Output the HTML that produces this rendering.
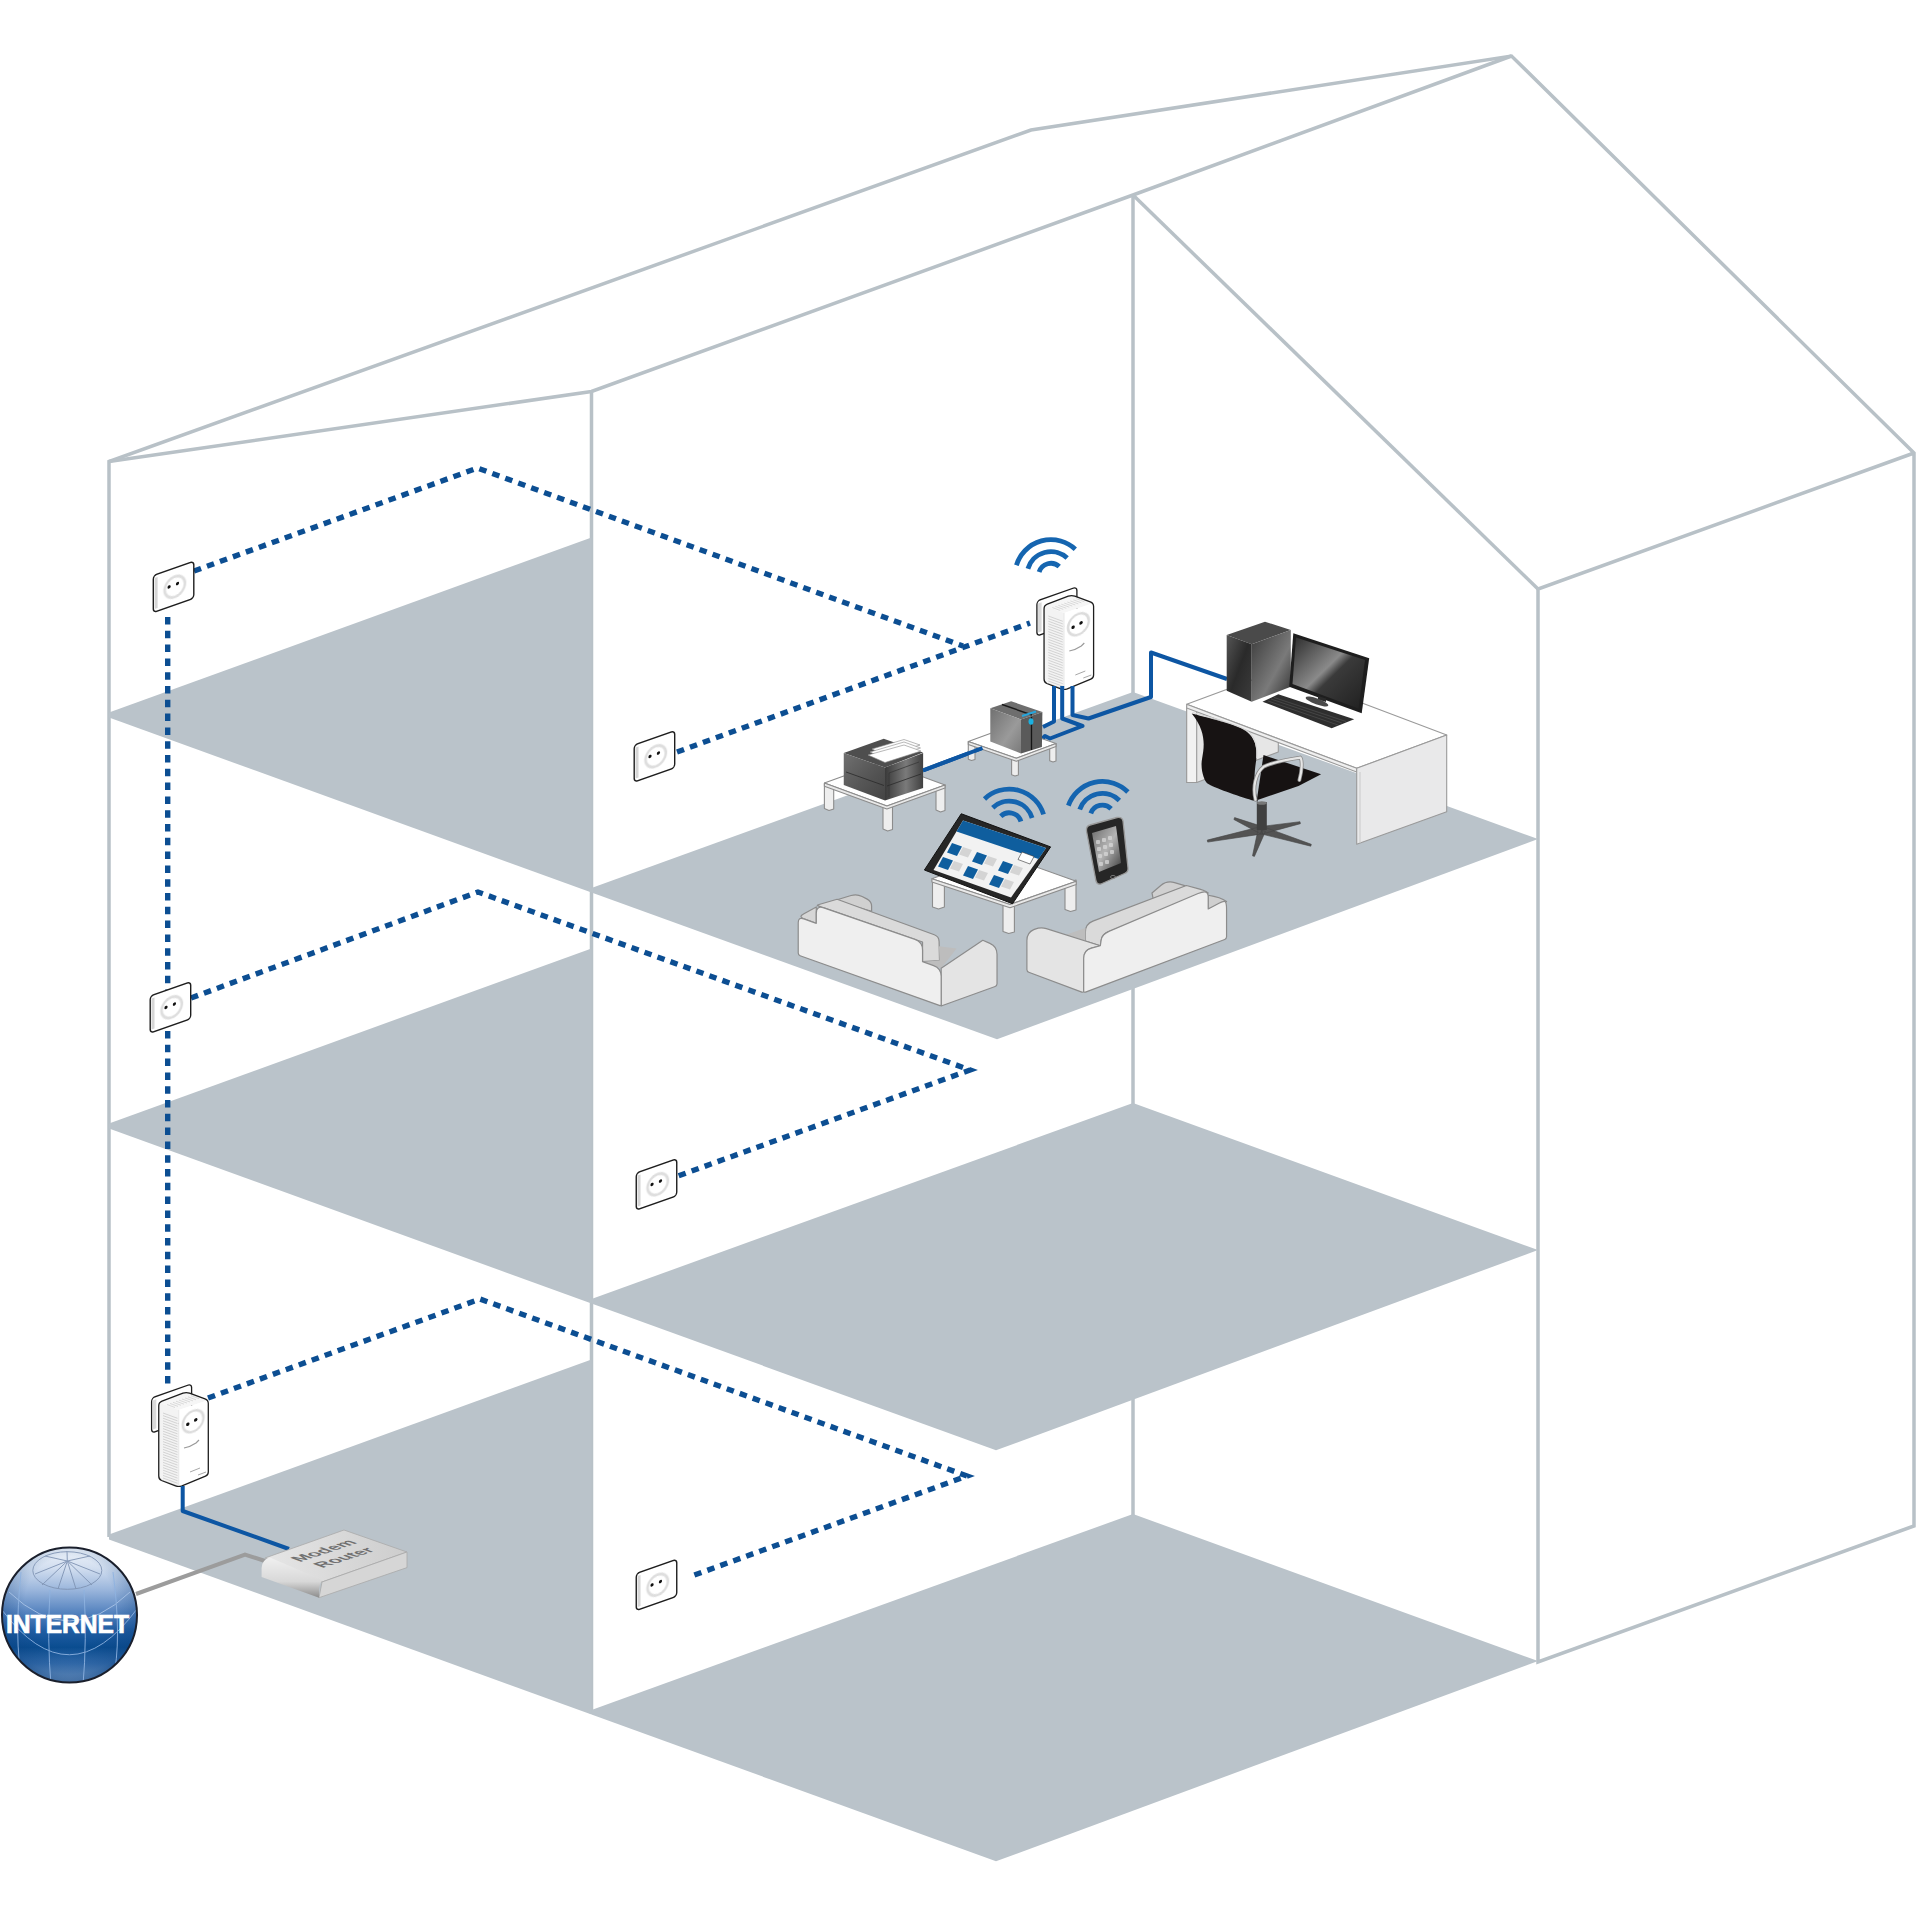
<!DOCTYPE html>
<html><head><meta charset="utf-8">
<style>
html,body{margin:0;padding:0;background:#fff;width:1917px;height:1917px;overflow:hidden}
svg{display:block}
</style></head>
<body>
<svg width="1917" height="1917" viewBox="0 0 1917 1917">
<defs>
  <radialGradient id="globeG" cx="0.5" cy="0.18" r="0.9" fx="0.5" fy="0.12">
    <stop offset="0" stop-color="#e8eef8"/>
    <stop offset="0.25" stop-color="#9fb8dc"/>
    <stop offset="0.55" stop-color="#2f64a6"/>
    <stop offset="0.8" stop-color="#0c4f92"/>
    <stop offset="1" stop-color="#4d7fbb"/>
  </radialGradient>
  <linearGradient id="pcL" x1="0" y1="0" x2="1" y2="1">
    <stop offset="0" stop-color="#555"/><stop offset="0.5" stop-color="#2a2a2a"/><stop offset="1" stop-color="#3c3c3c"/>
  </linearGradient>
  <linearGradient id="pcR" x1="0" y1="0" x2="1" y2="1">
    <stop offset="0" stop-color="#3a3a3a"/><stop offset="0.6" stop-color="#7a7a7a"/><stop offset="1" stop-color="#2e2e2e"/>
  </linearGradient>
  <linearGradient id="scr" x1="0" y1="0" x2="1" y2="1">
    <stop offset="0" stop-color="#2c2c2c"/><stop offset="0.45" stop-color="#8a8a8a"/><stop offset="0.55" stop-color="#3a3a3a"/><stop offset="1" stop-color="#202020"/>
  </linearGradient>
  <linearGradient id="nasL" x1="0" y1="0" x2="1" y2="1">
    <stop offset="0" stop-color="#707070"/><stop offset="0.6" stop-color="#9a9a9a"/><stop offset="1" stop-color="#7a7a7a"/>
  </linearGradient>
  <linearGradient id="prL" x1="0" y1="0" x2="1" y2="1">
    <stop offset="0" stop-color="#707070"/><stop offset="0.5" stop-color="#575757"/><stop offset="1" stop-color="#444"/>
  </linearGradient>
  <linearGradient id="prR" x1="0" y1="0" x2="1" y2="0">
    <stop offset="0" stop-color="#3a3a3a"/><stop offset="0.55" stop-color="#7a7a7a"/><stop offset="1" stop-color="#404040"/>
  </linearGradient>
  <linearGradient id="rtF" x1="0" y1="0" x2="0" y2="1">
    <stop offset="0" stop-color="#f0f0f0"/><stop offset="0.6" stop-color="#d8d8d8"/><stop offset="1" stop-color="#8c8c8c"/>
  </linearGradient>
  <linearGradient id="rtT" x1="0" y1="0" x2="1" y2="0">
    <stop offset="0" stop-color="#e6e6e6"/><stop offset="1" stop-color="#cdcdcd"/>
  </linearGradient>
  <linearGradient id="phS" x1="0" y1="0" x2="1" y2="1">
    <stop offset="0" stop-color="#6a6a6a"/><stop offset="0.5" stop-color="#b5b5b5"/><stop offset="1" stop-color="#3a3a3a"/>
  </linearGradient>
</defs>
<filter id="blur1" x="-20%" y="-20%" width="140%" height="140%"><feGaussianBlur stdDeviation="0.7"/></filter>
<rect width="1917" height="1917" fill="#fff"/>

<g stroke="#b8c1c7" stroke-width="3.5" fill="none" stroke-linejoin="miter">
  <polyline points="109,1537 109,461.5 1031,130 1511.5,56 1914,453 1914,1526 1538,1662 1538,589 1914,453"/>
  <polyline points="109,461.5 591.5,391.5 1133,195 1511.5,56"/>
  <line x1="591.5" y1="391" x2="591.5" y2="1714"/>
  <line x1="1133" y1="195" x2="1133" y2="1515"/>
  <line x1="1133" y1="195" x2="1538" y2="589"/>
</g>
<g fill="#bac3ca">
  <polygon points="109,712.5 591.5,537.5 591.5,892.5 109,717.5"/>
  <polygon points="591.5,888 1133,692 1538,839 997,1039.3 591.5,892.5"/>
  <polygon points="109,1123.5 591.5,948.5 591.5,1303.5 109,1128.5"/>
  <polygon points="591.5,1299 1133,1103 1538,1250 996,1450.3 591.5,1303.5"/>
  <polygon points="109,1534.5 591.5,1359.5 591.5,1714.5 109,1539.5"/>
  <polygon points="591.5,1710 1133,1514 1538,1661 996,1861.3 591.5,1714.5"/>
</g>
<g stroke="#0c4e92" stroke-width="5.4" fill="none" stroke-dasharray="7.5 6.3">
  <polyline points="194,571 477.5,468 963,646"/>
  <polyline points="677,752 1030,623"/>
  <polyline points="191,998 478,892 970,1070 678,1176"/>
  <polyline points="208,1398 480,1299 967,1476 689,1577"/>
  <line x1="167.7" y1="617" x2="167.7" y2="1385"/>
</g>
<g transform="translate(153.3,575.5) skewY(-19.341)">
 <rect x="0" y="0" width="40.5" height="37" rx="3.5" fill="#fff" stroke="#1e1e1e" stroke-width="1.4"/>
 <rect x="1.3" y="3" width="3" height="31" fill="#d6d6d6"/>
 <circle cx="21.5" cy="18.8" r="10.2" fill="none" stroke="#dedede" stroke-width="2.6" filter="url(#blur1)"/>
 <circle cx="15.8" cy="17" r="1.6" fill="#111"/>
 <circle cx="24.2" cy="16.6" r="1.6" fill="#111"/>
</g>
<g transform="translate(150.2,996) skewY(-19.341)">
 <rect x="0" y="0" width="40.5" height="37" rx="3.5" fill="#fff" stroke="#1e1e1e" stroke-width="1.4"/>
 <rect x="1.3" y="3" width="3" height="31" fill="#d6d6d6"/>
 <circle cx="21.5" cy="18.8" r="10.2" fill="none" stroke="#dedede" stroke-width="2.6" filter="url(#blur1)"/>
 <circle cx="15.8" cy="17" r="1.6" fill="#111"/>
 <circle cx="24.2" cy="16.6" r="1.6" fill="#111"/>
</g>
<g transform="translate(634.2,745) skewY(-19.341)">
 <rect x="0" y="0" width="40.5" height="37" rx="3.5" fill="#fff" stroke="#1e1e1e" stroke-width="1.4"/>
 <rect x="1.3" y="3" width="3" height="31" fill="#d6d6d6"/>
 <circle cx="21.5" cy="18.8" r="10.2" fill="none" stroke="#dedede" stroke-width="2.6" filter="url(#blur1)"/>
 <circle cx="15.8" cy="17" r="1.6" fill="#111"/>
 <circle cx="24.2" cy="16.6" r="1.6" fill="#111"/>
</g>
<g transform="translate(636.25,1173) skewY(-19.341)">
 <rect x="0" y="0" width="40.5" height="37" rx="3.5" fill="#fff" stroke="#1e1e1e" stroke-width="1.4"/>
 <rect x="1.3" y="3" width="3" height="31" fill="#d6d6d6"/>
 <circle cx="21.5" cy="18.8" r="10.2" fill="none" stroke="#dedede" stroke-width="2.6" filter="url(#blur1)"/>
 <circle cx="15.8" cy="17" r="1.6" fill="#111"/>
 <circle cx="24.2" cy="16.6" r="1.6" fill="#111"/>
</g>
<g transform="translate(636.25,1573.5) skewY(-19.341)">
 <rect x="0" y="0" width="40.5" height="37" rx="3.5" fill="#fff" stroke="#1e1e1e" stroke-width="1.4"/>
 <rect x="1.3" y="3" width="3" height="31" fill="#d6d6d6"/>
 <circle cx="21.5" cy="18.8" r="10.2" fill="none" stroke="#dedede" stroke-width="2.6" filter="url(#blur1)"/>
 <circle cx="15.8" cy="17" r="1.6" fill="#111"/>
 <circle cx="24.2" cy="16.6" r="1.6" fill="#111"/>
</g>
<g id="adB"><g transform="translate(151.6,1398) skewY(-19.341)"><rect x="0" y="0" width="40" height="35" rx="3.5" fill="#fff" stroke="#1e1e1e" stroke-width="1.3"/><rect x="1.2" y="3" width="3.5" height="29" fill="#d9d9d9"/></g>
<polygon points="158.75,1402.5 186.3,1392.2 208.3,1400 178.75,1410" fill="#f6f6f6"/>
<polygon points="158.75,1402.5 178.75,1410 178.75,1487 158.75,1479" fill="#f3f3f3"/>
<polygon points="178.75,1410 208.3,1400 208.3,1475 178.75,1487" fill="#ffffff"/>
<path d="M163,1413.0 L177.5,1418.3 M163,1415.6 L177.5,1420.9 M163,1418.2 L177.5,1423.5 M163,1420.8 L177.5,1426.1 M163,1423.4 L177.5,1428.7 M163,1426.0 L177.5,1431.3 M163,1428.6 L177.5,1433.9 M163,1431.2 L177.5,1436.5 M163,1433.8 L177.5,1439.1 M163,1436.4 L177.5,1441.7 M163,1439.0 L177.5,1444.3 M163,1441.6 L177.5,1446.9 M163,1444.2 L177.5,1449.5 M163,1446.8 L177.5,1452.1 M163,1449.4 L177.5,1454.7 M163,1452.0 L177.5,1457.3 M163,1454.6 L177.5,1459.9 M163,1457.2 L177.5,1462.5 M163,1459.8 L177.5,1465.1 M163,1462.4 L177.5,1467.7 M163,1465.0 L177.5,1470.3 M163,1467.6 L177.5,1472.9 M163,1470.2 L177.5,1475.5 M163,1472.8 L177.5,1478.1 M163,1475.4 L177.5,1480.7 M163,1478.0 L177.5,1483.3 M163,1480.6 L177.5,1485.9" stroke="#cfcfcf" stroke-width="0.9" fill="none"/>
<path d="M175.0,1407.5 L167.0,1404.5 M178.0,1406.4 L170.0,1403.4 M181.0,1405.3 L173.0,1402.3 M184.0,1404.2 L176.0,1401.2 M187.0,1403.1 L179.0,1400.1 M190.0,1402.0 L182.0,1399.0 M193.0,1400.9 L185.0,1397.9 M196.0,1399.8 L188.0,1396.8 M199.0,1398.7 L191.0,1395.7" stroke="#d2d2d2" stroke-width="0.8" fill="none"/>
<path d="M158.75,1406 Q158.75,1402.5 162,1401.2 L183,1393.2 Q186.3,1392 189.5,1393.2 L205,1398.8 Q208.3,1400 208.3,1403.5 L208.3,1472 Q208.3,1475 205.5,1476.2 L182,1485.8 Q178.75,1487 175.5,1485.8 L161.5,1480.5 Q158.75,1479.3 158.75,1476 Z" fill="none" stroke="#1e1e1e" stroke-width="1.3"/>
<line x1="178.75" y1="1410" x2="178.75" y2="1486" stroke="#e2e2e2" stroke-width="0.8"/>
<g transform="translate(193.1,1421.2) skewY(-19.341)"><circle r="10.4" fill="none" stroke="#dcdcdc" stroke-width="2.4" filter="url(#blur1)"/><circle cx="-5.3" cy="1.2" r="1.7" fill="#111"/><circle cx="2.6" cy="-0.4" r="1.7" fill="#111"/></g>
<path d="M184,1448 Q190,1447 196,1443 L199,1440" stroke="#9a9a9a" stroke-width="1.2" fill="none"/>
<path d="M190,1472 L200,1468 M198,1475 L206,1472" stroke="#a8a8a8" stroke-width="1" fill="none"/></g>
<g transform="translate(885.3,-797)"><g transform="translate(151.6,1398) skewY(-19.341)"><rect x="0" y="0" width="40" height="35" rx="3.5" fill="#fff" stroke="#1e1e1e" stroke-width="1.3"/><rect x="1.2" y="3" width="3.5" height="29" fill="#d9d9d9"/></g>
<polygon points="158.75,1402.5 186.3,1392.2 208.3,1400 178.75,1410" fill="#f6f6f6"/>
<polygon points="158.75,1402.5 178.75,1410 178.75,1487 158.75,1479" fill="#f3f3f3"/>
<polygon points="178.75,1410 208.3,1400 208.3,1475 178.75,1487" fill="#ffffff"/>
<path d="M163,1413.0 L177.5,1418.3 M163,1415.6 L177.5,1420.9 M163,1418.2 L177.5,1423.5 M163,1420.8 L177.5,1426.1 M163,1423.4 L177.5,1428.7 M163,1426.0 L177.5,1431.3 M163,1428.6 L177.5,1433.9 M163,1431.2 L177.5,1436.5 M163,1433.8 L177.5,1439.1 M163,1436.4 L177.5,1441.7 M163,1439.0 L177.5,1444.3 M163,1441.6 L177.5,1446.9 M163,1444.2 L177.5,1449.5 M163,1446.8 L177.5,1452.1 M163,1449.4 L177.5,1454.7 M163,1452.0 L177.5,1457.3 M163,1454.6 L177.5,1459.9 M163,1457.2 L177.5,1462.5 M163,1459.8 L177.5,1465.1 M163,1462.4 L177.5,1467.7 M163,1465.0 L177.5,1470.3 M163,1467.6 L177.5,1472.9 M163,1470.2 L177.5,1475.5 M163,1472.8 L177.5,1478.1 M163,1475.4 L177.5,1480.7 M163,1478.0 L177.5,1483.3 M163,1480.6 L177.5,1485.9" stroke="#cfcfcf" stroke-width="0.9" fill="none"/>
<path d="M175.0,1407.5 L167.0,1404.5 M178.0,1406.4 L170.0,1403.4 M181.0,1405.3 L173.0,1402.3 M184.0,1404.2 L176.0,1401.2 M187.0,1403.1 L179.0,1400.1 M190.0,1402.0 L182.0,1399.0 M193.0,1400.9 L185.0,1397.9 M196.0,1399.8 L188.0,1396.8 M199.0,1398.7 L191.0,1395.7" stroke="#d2d2d2" stroke-width="0.8" fill="none"/>
<path d="M158.75,1406 Q158.75,1402.5 162,1401.2 L183,1393.2 Q186.3,1392 189.5,1393.2 L205,1398.8 Q208.3,1400 208.3,1403.5 L208.3,1472 Q208.3,1475 205.5,1476.2 L182,1485.8 Q178.75,1487 175.5,1485.8 L161.5,1480.5 Q158.75,1479.3 158.75,1476 Z" fill="none" stroke="#1e1e1e" stroke-width="1.3"/>
<line x1="178.75" y1="1410" x2="178.75" y2="1486" stroke="#e2e2e2" stroke-width="0.8"/>
<g transform="translate(193.1,1421.2) skewY(-19.341)"><circle r="10.4" fill="none" stroke="#dcdcdc" stroke-width="2.4" filter="url(#blur1)"/><circle cx="-5.3" cy="1.2" r="1.7" fill="#111"/><circle cx="2.6" cy="-0.4" r="1.7" fill="#111"/></g>
<path d="M184,1448 Q190,1447 196,1443 L199,1440" stroke="#9a9a9a" stroke-width="1.2" fill="none"/>
<path d="M190,1472 L200,1468 M198,1475 L206,1472" stroke="#a8a8a8" stroke-width="1" fill="none"/></g>
<g fill="none" stroke="#0d56a3" stroke-width="4" stroke-linejoin="round">
 <polyline points="182.7,1486 182.7,1511 289,1549"/>
 <polyline points="1054,686 1054,721.5 1043,727"/>
 <polyline points="1062.2,686 1062.2,718.5 1082.5,726 1050,738.5 1045,736 1040,741 982.5,748 923,770.5"/>
 <polyline points="1072.5,686 1072.5,715 1088.5,718.5 1151,697 1151,652.5 1227,679"/>
</g>
<polyline points="136,1594 245,1554.5 265,1561" fill="none" stroke="#9c9c9c" stroke-width="4"/>
<g>
 <polygon points="265,1558 344,1530 407,1552 322,1582" fill="url(#rtT)" stroke="#a9a9a9" stroke-width="0.8"/>
 <polygon points="407,1552 407,1567.6 319,1597.7 322,1582" fill="#d6d6d6" stroke="#a9a9a9" stroke-width="0.8"/>
 <path d="M261.6,1577 L261.6,1568 Q262,1559.5 270,1557.5 L322,1580 Q319,1585 319,1590 L319,1597.7 Z" fill="url(#rtF)"/>
 <text font-family="Liberation Sans, sans-serif" font-weight="bold" font-size="17.5" fill="#707070" transform="matrix(0.95,-0.31,0.9,0.32,300,1562)">Modem</text>
 <text font-family="Liberation Sans, sans-serif" font-weight="bold" font-size="17.5" fill="#707070" transform="matrix(0.95,-0.31,0.9,0.32,322.5,1568)">Router</text>
</g>
<g>
 <defs>
  <linearGradient id="glV" x1="0" y1="0" x2="0" y2="1">
   <stop offset="0" stop-color="#eef3fa"/>
   <stop offset="0.15" stop-color="#d3dff0"/>
   <stop offset="0.32" stop-color="#98b4db"/>
   <stop offset="0.48" stop-color="#5583bf"/>
   <stop offset="0.62" stop-color="#1f5ca2"/>
   <stop offset="0.74" stop-color="#0a4d90"/>
   <stop offset="0.86" stop-color="#3a72b2"/>
   <stop offset="1" stop-color="#95b4da"/>
  </linearGradient>
  <radialGradient id="glR" cx="0.5" cy="0.4" r="0.6">
   <stop offset="0.55" stop-color="#0a3f7d" stop-opacity="0"/>
   <stop offset="0.9" stop-color="#0a3f7d" stop-opacity="0.35"/>
   <stop offset="1" stop-color="#0a3f7d" stop-opacity="0.6"/>
  </radialGradient>
  <clipPath id="glC"><circle cx="69.5" cy="1615" r="67.5"/></clipPath>
 </defs>
 <circle cx="69.5" cy="1615" r="67.5" fill="url(#glV)"/>
 <circle cx="69.5" cy="1615" r="67.5" fill="url(#glR)"/>
 <g clip-path="url(#glC)" fill="none" stroke="#8fb3e0" stroke-width="1" opacity="0.9">
  <ellipse cx="67.3" cy="1570.5" rx="34.5" ry="18.8" stroke="#7f93b3"/>
  <path d="M67.3,1561 L35,1574 M67.3,1561 L42,1585 M67.3,1561 L58,1589 M67.3,1561 L76,1589 M67.3,1561 L92,1585 M67.3,1561 L100,1574 M67.3,1561 L90,1556 M67.3,1561 L45,1556 M67.3,1561 L67,1551" stroke="#7f93b3"/>
  <path d="M2,1610 Q69.5,1700 137,1609"/>
  <path d="M9,1592 Q69.5,1650 130,1592" stroke="#a9c3e6"/>
  <path d="M21,1572 Q14,1640 22,1680 M50,1590 Q47,1640 51,1685 M84,1590 Q87,1640 83,1685 M113,1572 Q122,1640 113,1680"/>
 </g>
 <circle cx="69.5" cy="1615" r="67.5" fill="none" stroke="#1a1f2c" stroke-width="2"/>
 <text x="67.5" y="1632.7" text-anchor="middle" font-family="Liberation Sans, sans-serif" font-weight="bold" font-size="26" fill="#fff" stroke="#fff" stroke-width="0.7" textLength="123" lengthAdjust="spacingAndGlyphs">INTERNET</text>
</g>
<g stroke="#8c8c8c" stroke-width="1.1" stroke-linejoin="round">
 <polygon points="824.4,784 833.7,787.5 833.7,809 829,810.5 824.4,808.5" fill="#eeeeee"/>
 <polygon points="936,788 945,785 945,810.5 940.5,812 936,810" fill="#eeeeee"/>
 <polygon points="883,805 892.5,801.5 892.5,829.5 887.7,831 883,829" fill="#eeeeee"/>
 <polygon points="824.4,783.1 882.5,762 945,785 886.9,806" fill="#ffffff"/>
 <polygon points="824.4,783.1 886.9,806 945,785 945,788 886.9,809 824.4,786.3" fill="#e9e9e9"/>
</g>
<g>
 <polygon points="843.75,753.1 883.75,738.75 923.1,752.5 885,767.5" fill="#4e4e4e"/>
 <polygon points="843.75,753.1 885,767.5 885,800.6 843.75,785" fill="url(#prL)"/>
 <polygon points="885,767.5 923.1,753.1 923.1,788.1 885,800.6" fill="url(#prR)"/>
 <polygon points="872,749 904,739.5 920,745 886,756" fill="#fdfdfd" stroke="#8a8a8a" stroke-width="0.6"/>
 <polygon points="870,752 904,742 920.5,748 885.5,759" fill="#fdfdfd" stroke="#8a8a8a" stroke-width="0.6"/>
 <polygon points="868,755 904,745 921,751 885,762.5" fill="#ffffff" stroke="#8a8a8a" stroke-width="0.6"/>
 <path d="M846,772 L884,785.5 M887,786 L921,774" stroke="#2a2a2a" stroke-width="0.8"/>
 <path d="M889,773 L889,797 M889,773 L919,762" stroke="#333" stroke-width="0.7" fill="none"/>
</g>
<g stroke="#8c8c8c" stroke-width="1.1" stroke-linejoin="round">
 <polygon points="968.3,742 975,744.5 975,759.5 971.5,760.5 968.3,759.2" fill="#eeeeee"/>
 <polygon points="1011.6,759 1018.4,756.5 1018.4,775 1015,776 1011.6,774.8" fill="#eeeeee"/>
 <polygon points="1049.7,746 1056,744 1056,761 1053,762 1049.7,760.7" fill="#eeeeee"/>
 <polygon points="968.3,741.6 1008,727 1056,743.5 1016.3,758.3" fill="#ffffff"/>
 <polygon points="968.3,741.6 1016.3,758.3 1056,743.5 1056,746.5 1016.3,761.3 968.3,744.6" fill="#e9e9e9"/>
</g>
<g>
 <polygon points="990.3,708.3 1011.1,701.2 1042.4,711.9 1021,719.4" fill="#6e6e6e"/>
 <polygon points="990.3,708.3 1021,719.4 1021,753.4 990.3,741.6" fill="url(#nasL)"/>
 <polygon points="1021,719.4 1042.4,711.9 1041.9,746.9 1021,753.4" fill="#5a5a5a"/>
 <path d="M1002,704.5 L1032,715" stroke="#1a1a1a" stroke-width="1.4"/>
 <line x1="1031.5" y1="717" x2="1031.5" y2="750" stroke="#151515" stroke-width="1.3"/>
 <ellipse cx="1031" cy="721.5" rx="2.5" ry="3.2" fill="#1ab0e0"/>
 <path d="M1022,716 L1036,711.5" stroke="#27a6dc" stroke-width="2"/>
</g>
<polyline points="982.5,748 923,770.5" fill="none" stroke="#0d56a3" stroke-width="4"/>
<g stroke="#8c8c8c" stroke-width="1.1" stroke-linejoin="round">
 <polygon points="932.5,880 944.4,884 944.4,907 938.5,909 932.5,907" fill="#eeeeee"/>
 <polygon points="1065,883 1076,880 1076,910 1070.5,911.5 1065,909.5" fill="#eeeeee"/>
 <polygon points="1003,905 1014.4,901.5 1014.4,932 1008.7,933.5 1003,931.5" fill="#eeeeee"/>
 <polygon points="931.9,878.75 1000,854 1076.25,881.25 1010,904.4" fill="#ffffff"/>
 <polygon points="931.9,878.75 1010,904.4 1076.25,881.25 1076.25,884.5 1010,907.8 931.9,882" fill="#e9e9e9"/>
</g>
<g>
 <polygon points="961.25,813.75 1050.6,846.9 1012.5,903.75 924.4,870" fill="#262626" stroke="#111" stroke-width="1"/>
 <polygon points="963,820.5 1046,848 1011,897.5 933.5,870" fill="#f2f2f2"/>
 <polygon points="963,820.5 1046,848 1038.5,859 956.5,831.5" fill="#0f5e9e"/>
 <g fill="#0f5e9e">
  <polygon points="952,843 962,846.5 957,856 947,852.5"/>
  <polygon points="977,852 987,855.5 982,865 972,861.5"/>
  <polygon points="1003,861 1013,864.5 1008,874 998,870.5"/>
  <polygon points="943,857 953,860.5 948,870 938,866.5"/>
  <polygon points="968,866 978,869.5 973,879 963,875.5"/>
  <polygon points="994,875 1004,878.5 999,888 989,884.5"/>
 </g>
 <g fill="#d4d4d4">
  <polygon points="963,847 972,850 968,857.5 959,854.5"/>
  <polygon points="988,856 997,859 993,866.5 984,863.5"/>
  <polygon points="1014,865 1023,868 1019,875.5 1010,872.5"/>
  <polygon points="954,861 963,864 959,871.5 950,868.5"/>
  <polygon points="979,870 988,873 984,880.5 975,877.5"/>
  <polygon points="1005,879 1014,882 1010,889.5 1001,886.5"/>
 </g>
 <polygon points="1022,852 1034,856.5 1030,864 1018,859.5" fill="#fff" stroke="#333" stroke-width="0.6"/>
</g>
<g>
 <path d="M1090,825 L1117,817.5 Q1122,816.5 1123,821 L1128,868 Q1128.5,872 1124.5,873.5 L1101,884 Q1097,885 1096,881 L1086.5,831 Q1086,826 1090,825 Z" fill="#262626" stroke="#9a9a9a" stroke-width="1.3"/>
 <polygon points="1092,833 1116,826 1121,863 1099,872" fill="url(#phS)"/>
 <g fill="#d8d8d8" opacity="0.75">
  <rect x="1096" y="840" width="4" height="4" rx="1"/><rect x="1102" y="838" width="4" height="4" rx="1"/><rect x="1108" y="836" width="4" height="4" rx="1"/>
  <rect x="1097" y="847" width="4" height="4" rx="1"/><rect x="1103" y="845" width="4" height="4" rx="1"/><rect x="1109" y="843" width="4" height="4" rx="1"/>
  <rect x="1098" y="854" width="4" height="4" rx="1"/><rect x="1104" y="852" width="4" height="4" rx="1"/><rect x="1110" y="850" width="4" height="4" rx="1"/>
  <rect x="1099" y="862" width="4" height="4" rx="1"/><rect x="1105" y="860" width="4" height="4" rx="1"/>
 </g>
 <ellipse cx="1113" cy="877" rx="2.5" ry="1.6" fill="none" stroke="#888" stroke-width="0.8"/>
</g>
<g stroke="#8c8c8c" stroke-width="1.2" stroke-linejoin="round">
 <path d="M837.10,899.79 L851.08,895.52 Q856.82,893.76 862.15,896.53 L867.17,899.13 Q871.61,901.43 871.61,906.36 L871.61,911.29 L837.10,901.43 Z" fill="#d0d0d0"/>
 <path d="M818.18,905.92 Q816.29,905.27 818.21,904.71 L837.10,899.24 L934.28,934.77 Q938.98,936.48 939.09,941.48 L939.52,960.58 L922.54,961.68 L922.54,941.96 Z" fill="#dadada"/>
 <path d="M803.85,918.82 Q798.22,916.77 803.50,913.93 L813.55,908.55 L816.29,906.91 L816.29,923.34 Z" fill="#d6d6d6"/>
 <path d="M938.98,946.34 L956.50,948.53 L941.17,968.25 L922.54,961.68 L939.52,960.58 Z" fill="#bdbdbd" stroke="none"/>
 <path d="M941.17,968.25 L982.79,940.32 L989.91,943.33 Q997.03,946.34 997.03,954.34 L997.03,983.78 Q997.03,985.78 995.15,986.46 L941.17,1006.04 Z" fill="#e4e4e4"/>
 <path d="M798.22,922.77 Q798.22,916.77 803.85,918.82 L816.29,923.34 L816.29,913.27 Q816.29,905.27 823.85,907.88 L914.98,939.35 Q922.54,941.96 922.54,949.96 L922.54,961.68 L933.62,965.59 Q941.17,968.25 941.17,976.25 L941.17,1004.04 Q941.17,1006.04 939.28,1005.37 L800.10,955.78 Q798.22,955.11 798.22,953.11 Z" fill="#efefef"/>
</g>
<g stroke="#8c8c8c" stroke-width="1.2" stroke-linejoin="round">
 <path d="M1151.97,892.95 L1160.78,885.50 Q1166.89,880.33 1174.56,882.59 L1186.40,886.07 L1153.12,898.69 Z" fill="#d0d0d0"/>
 <path d="M1085.41,931.94 Q1085.41,923.94 1092.89,921.09 L1186.40,885.49 L1199.75,889.05 Q1203.61,890.08 1205.91,891.52 L1208.20,892.95 L1107.64,932.09 Q1102.05,934.26 1101.19,940.00 L1100.33,945.74 L1085.41,941.15 Z" fill="#dadada"/>
 <path d="M1208.20,895.25 L1213.94,896.39 Q1219.68,897.54 1223.12,899.55 L1226.56,901.56 L1208.20,909.02 Z" fill="#cfcfcf"/>
 <path d="M1065.90,934.84 L1085.41,927.95 L1085.41,943.45 L1083.69,950.33 Z" fill="#bdbdbd" stroke="none"/>
 <path d="M1026.89,940.54 Q1026.89,932.54 1033.77,929.67 L1035.12,929.11 Q1040.66,926.81 1046.38,928.62 L1100.33,945.74 L1091.40,948.20 Q1083.69,950.33 1083.69,958.33 L1083.69,990.79 Q1083.69,992.79 1081.82,992.09 L1028.76,972.26 Q1026.89,971.56 1026.89,969.56 Z" fill="#e4e4e4"/>
 <path d="M1083.69,958.33 Q1083.69,950.33 1091.40,948.20 L1100.33,945.74 L1101.19,940.00 Q1102.05,934.26 1109.42,931.14 L1198.09,893.57 Q1203.61,891.23 1205.91,892.09 L1205.91,892.09 Q1208.20,892.95 1208.20,896.95 L1208.20,909.02 L1218.98,903.24 Q1224.27,900.41 1225.42,901.85 L1225.42,901.85 Q1226.56,903.28 1226.56,909.28 L1226.56,936.85 Q1226.56,938.85 1224.69,939.56 L1085.56,992.08 Q1083.69,992.79 1083.69,990.79 Z" fill="#efefef"/>
</g>
<g stroke="#9a9a9a" stroke-width="1.1" stroke-linejoin="round">
 <polygon points="1186.7,706.7 1278.3,741.7 1278.3,752 1196.7,782.5 1186.7,782.5" fill="#e6e6e6"/>
 <polygon points="1186.7,706 1196.7,709.5 1196.7,782.5 1186.7,782.5" fill="#f2f2f2"/>
 <polygon points="1186.7,704.2 1276.7,670.8 1446.7,735 1356.7,768.3" fill="#ffffff"/>
 <polygon points="1186.7,704.2 1356.7,768.3 1356.7,772 1186.7,708" fill="#efefef"/>
 <polygon points="1356.7,768.3 1446.7,735 1446.7,811.7 1356.7,844.2" fill="#e9e9ea"/>
 <line x1="1360" y1="772" x2="1360" y2="843" stroke="#c9c9c9" stroke-width="1"/>
</g>
<g>
 <polygon points="1226.7,635 1265,621.7 1290.8,630 1251.7,644.2" fill="#4a4a4a"/>
 <polygon points="1226.7,635 1251.7,644.2 1251.7,701.7 1226.7,690.8" fill="url(#pcL)"/>
 <polygon points="1251.7,644.2 1290.8,630 1290.8,686.7 1251.7,701.7" fill="url(#pcR)"/>
</g>
<g>
 <polygon points="1293.3,633.3 1369.2,658.3 1361.7,713.3 1289.2,686.7" fill="#1e1e1e"/>
 <polygon points="1296,637.5 1365,660 1358.5,708.5 1292.5,684" fill="url(#scr)"/>
 <polygon points="1318,696 1326,698.5 1326,702 1318,699.5" fill="#2a2a2a"/>
 <ellipse cx="1317" cy="701.5" rx="12" ry="3" transform="rotate(20 1317 701.5)" fill="#4a4a4a"/>
</g>
<g>
 <polygon points="1262.5,701.7 1278.3,694.2 1354.2,719.2 1331.7,728.3" fill="#2e2e2e"/>
 <path d="M1268,701 L1338,725 M1271,699 L1342,723 M1274,697.5 L1346,721.5" stroke="#555" stroke-width="0.6"/>
</g>
<g>
 <path d="M1261.1,826.5 L1207.3,840.1 L1207.7,842.1 L1262.5,833.9 Z M1263.3,826.8 L1234.6,817.6 L1233.9,819.5 L1260.3,833.7 Z M1262.5,833.9 L1300.4,823.7 L1300.0,821.7 L1261.1,826.5 Z M1260.7,833.8 L1310.8,846.2 L1311.3,844.3 L1262.9,826.6 Z M1258.2,829.1 L1252.5,855.8 L1254.4,856.4 L1265.4,831.4 Z" fill="#535353" stroke="#444" stroke-width="0.6"/>
 <rect x="1256.8" y="802" width="10" height="28" fill="#404040"/>
 <ellipse cx="1261.8" cy="803" rx="5" ry="1.8" fill="#777"/>
 <path d="M1263.5,755.1 L1321.1,774.3 L1298.5,786.0 L1256.8,800.2 Z" fill="#161212"/>
 <path d="M1191.7,713.4 C1213.4,719.2 1238.4,725.0 1246.8,731.7 C1255.1,738.4 1257.2,746.7 1256.4,758.4 C1254.7,771.0 1252.6,783.5 1258.0,801.4 L1251.8,800.2 C1238.4,796.0 1213.4,787.6 1207.5,783.5 C1204.2,781.0 1200.0,769.3 1202.1,758.4 C1204.2,746.7 1206.7,731.7 1191.7,713.4 Z" fill="#171313"/>
 <path d="M1192.5,712.5 C1217.6,719.2 1242.6,725.9 1249.3,732.6 C1256.8,739.2 1257.6,748.4 1256.8,758.4" fill="none" stroke="#d8d8d8" stroke-width="1.2"/>
 <path d="M1255.5,799.7 C1252.6,787.6 1255.1,773.5 1263.5,766.8 C1271.8,762.6 1288.5,759.3 1300.2,757.6 C1302.7,760.1 1301.9,771.0 1299.4,780.1" fill="none" stroke="#8a8a8a" stroke-width="3.8" stroke-linecap="round"/>
 <path d="M1255.5,799.7 C1252.6,787.6 1255.1,773.5 1263.5,766.8 C1271.8,762.6 1288.5,759.3 1300.2,757.6 C1302.7,760.1 1301.9,771.0 1299.4,780.1" fill="none" stroke="#e6e6e6" stroke-width="2.2" stroke-linecap="round"/>
</g>
<g transform="translate(1050.9,575.6) rotate(-15.3)" fill="none" stroke="#1565b0" stroke-width="4.8">
<path d="M-30.53,-19.08 A36,36 0 0 1 30.53,-19.08"/>
<path d="M-20.35,-12.72 A24,24 0 0 1 20.35,-12.72"/>
<path d="M-10.43,-6.52 A12.3,12.3 0 0 1 10.43,-6.52"/>
</g>
<g transform="translate(1009.2,825.1) rotate(14.7)" fill="none" stroke="#1565b0" stroke-width="4.8">
<path d="M-30.53,-19.08 A36,36 0 0 1 30.53,-19.08"/>
<path d="M-20.35,-12.72 A24,24 0 0 1 20.35,-12.72"/>
<path d="M-10.43,-6.52 A12.3,12.3 0 0 1 10.43,-6.52"/>
</g>
<g transform="translate(1102.4,817.4) rotate(-12.9)" fill="none" stroke="#1565b0" stroke-width="4.8">
<path d="M-30.53,-19.08 A36,36 0 0 1 30.53,-19.08"/>
<path d="M-20.35,-12.72 A24,24 0 0 1 20.35,-12.72"/>
<path d="M-10.43,-6.52 A12.3,12.3 0 0 1 10.43,-6.52"/>
</g>
</svg>
</body></html>
